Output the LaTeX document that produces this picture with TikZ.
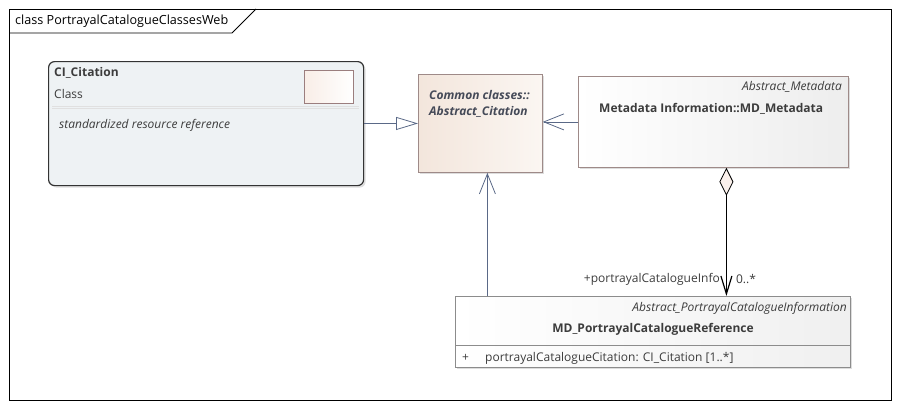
\documentclass[tikz,border=0pt]{standalone}
\usepackage{fontspec}
\setmainfont{Open Sans}
\usetikzlibrary{arrows.meta,shadows,calc}
\definecolor{umlline}{HTML}{5A6987}
\definecolor{umltext}{HTML}{3C3C3C}
\definecolor{abstext}{HTML}{454A58}
\definecolor{absline}{HTML}{9E8A88}
\definecolor{absleft}{HTML}{F3E6DC}
\definecolor{absright}{HTML}{FBF6F2}
\definecolor{citfill}{HTML}{EEF2F4}
\definecolor{iconfill}{HTML}{FBF1EC}
\definecolor{iconline}{HTML}{9B7E7E}
\begin{document}
\begin{tikzpicture}
[x=1pt,y=-1pt,
every node/.style={font=\fontsize{12}{14}\selectfont,text=umltext,inner sep=0pt},
classbox/.style={rectangle,anchor=north west,draw=absline,line width=0.8pt,
  drop shadow={shadow xshift=2pt,shadow yshift=-2pt,fill=black!22,opacity=0.6}},
namebold/.style={font=\fontsize{12}{14}\selectfont\bfseries},
stereo/.style={font=\fontsize{12}{14}\selectfont\itshape,anchor=east},
link/.style={draw=umlline,line width=0.8pt},
navhead/.style={-{Straight Barb[length=20pt,width=16pt,line width=0.8pt]}}]
% frame
\useasboundingbox (0,0) rectangle (901,410);
\draw[line width=0.8pt] (9,9) rectangle (891,400);
\draw[line width=0.8pt] (9,33) -- (232,33) -- (256,9);
\node[anchor=west,text=black,font=\fontsize{12.6}{14}\selectfont] (title) at (15,21) {class PortrayalCatalogueClassesWeb};
% CI_Citation
\node[classbox,draw=black!80,line width=1.2pt,rounded corners=6pt,fill=citfill,
  minimum width=315,minimum height=124] (cit) at (48,61) {};
\node[namebold,anchor=west] (citname) at (54,73) {CI\_Citation};
\node[anchor=west] (citkind) at (54,94) {Class};
\draw[black!12,line width=0.8pt] (52,106) -- (359,106) (52,108.5) -- (359,108.5);
\node[font=\fontsize{12}{14}\selectfont\itshape,anchor=west] (citnote) at (59,125)
  {standardized resource reference};
\node[rectangle,anchor=north west,draw=iconline,line width=0.8pt,
  left color=iconfill!70!absleft,right color=white,
  minimum width=49,minimum height=33] (citicon) at (304,70) {};
% Abstract_Citation
\node[classbox,left color=absleft,right color=absright,
  minimum width=124,minimum height=98] (abs) at (418,74) {};
\node[font=\fontsize{12}{14}\selectfont\bfseries\itshape,text=abstext,anchor=west]
  (absns) at (429,95) {Common classes::};
\node[font=\fontsize{12}{14}\selectfont\bfseries\itshape,text=abstext,anchor=west]
  (absname) at (429,112) {Abstract\_Citation};
% MD_Metadata
\node[classbox,left color=white,right color=black!7,
  minimum width=270,minimum height=91] (md) at (578,76) {};
\node[stereo] (mdstereo) at (842,87) {Abstract\_Metadata};
\node[namebold,anchor=west] (mdname) at (599,109) {Metadata Information::MD\_Metadata};
% MD_PortrayalCatalogueReference
\node[classbox,draw=black!45,left color=white,right color=black!6,
  minimum width=395,minimum height=71] (pcr) at (455,296) {};
\node[stereo] (pcrstereo) at (847,308) {Abstract\_PortrayalCatalogueInformation};
\node[namebold] (pcrname) at (653,329) {MD\_PortrayalCatalogueReference};
\draw[black!45,line width=0.8pt] (pcr.west |- 0,345) -- (pcr.east |- 0,345);
\node[anchor=west] (pcrvis) at (462,358) {+};
\node[anchor=west] (pcrattr) at (485,358) {portrayalCatalogueCitation: CI\_Citation [1..*]};
% connectors
\draw[link,-{Triangle[open,length=22pt,width=13pt,line width=0.8pt]}] (cit) -- (abs);
\draw[link,navhead] (md.west) -- (abs.east |- md.west);
\path (abs.south) ++(7,0) coordinate (absfoot);
\draw[link,navhead] (absfoot |- pcr.north) -- (absfoot);
\path (md.south) ++(13,0) coordinate (aggtop);
\draw[line width=1.2pt,{Diamond[fill=iconfill,length=28pt,width=14pt,line width=0.8pt]}-{Straight Barb[length=18pt,width=11pt,line width=1.2pt]}]
  (aggtop) -- (aggtop |- pcr.north)
  node[pos=0.87,anchor=east,xshift=-6pt] (aggrole) {+portrayalCatalogueInfo}
  node[pos=0.87,anchor=west,xshift=9pt] (aggmult) {0..*};
\end{tikzpicture}
\end{document}
